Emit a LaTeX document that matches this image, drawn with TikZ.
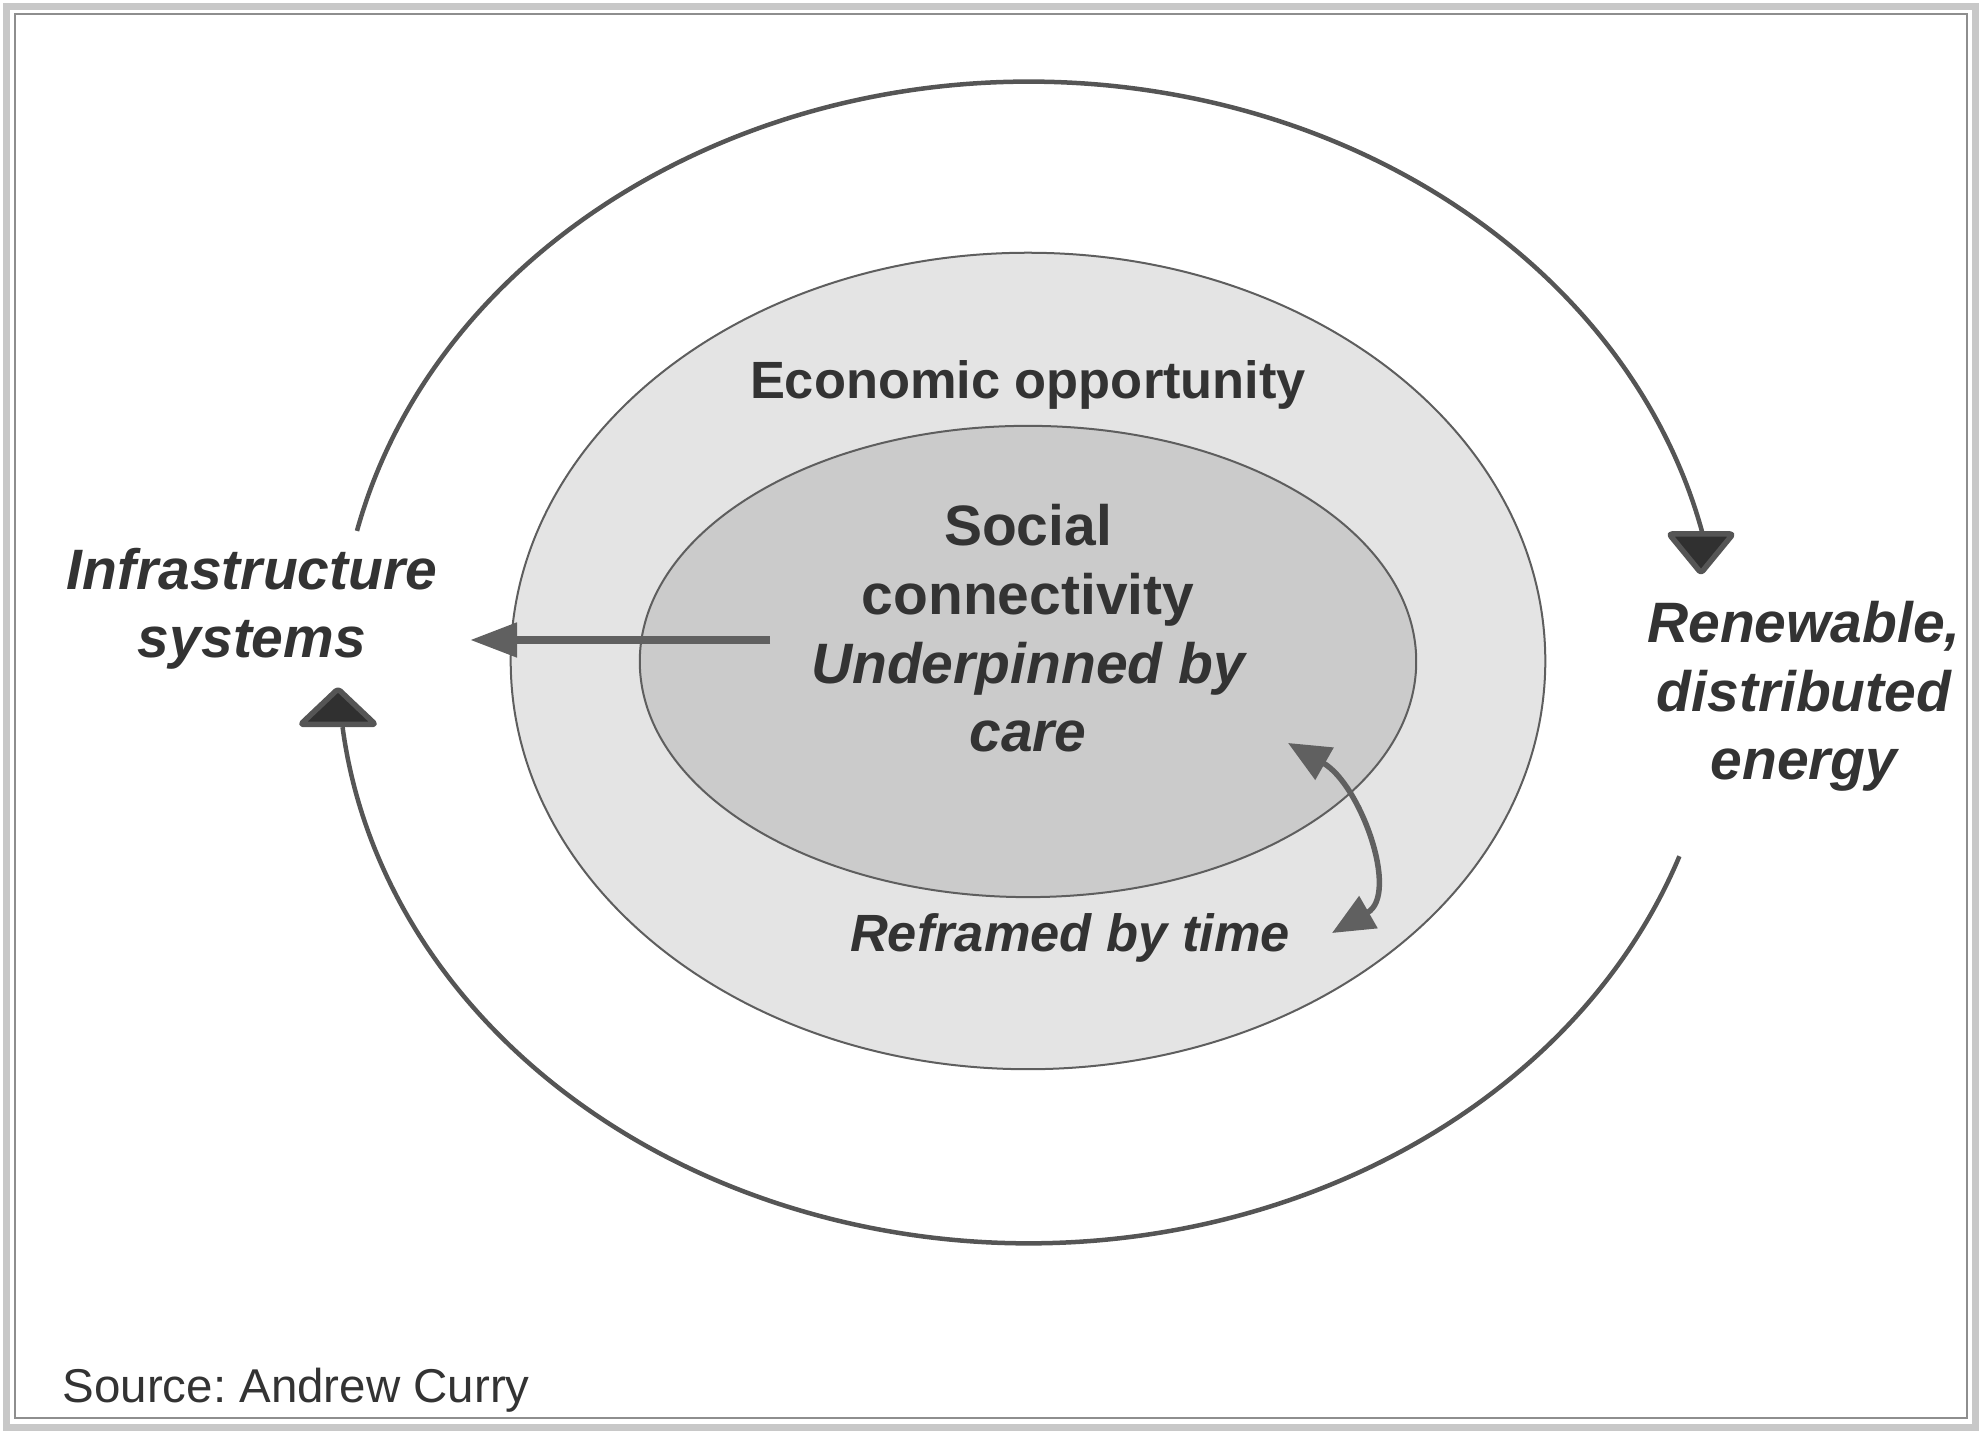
\documentclass[tikz,border=0pt]{standalone}
\usepackage{fontspec}
\setmainfont{Liberation Sans}
\usetikzlibrary{arrows.meta,shapes.geometric}
\definecolor{txt}{HTML}{333333}
\definecolor{ringfill}{HTML}{E4E4E4}
\definecolor{corefill}{HTML}{CBCBCB}
\definecolor{edge}{HTML}{5E5E5E}
\definecolor{cyc}{HTML}{555555}
\definecolor{headfill}{HTML}{303030}
\definecolor{arr}{HTML}{606060}
\definecolor{band}{HTML}{C8C8C8}
\definecolor{frameline}{HTML}{8E8E8E}
\frenchspacing
\tikzset{
  blob/.style={ellipse, draw=edge, line width=0.02cm, inner sep=0pt},
  biglabel/.style={text=txt, align=center, inner sep=0pt,
    font=\fontsize{16.2pt}{19.6pt}\selectfont\bfseries\itshape},
  midlabel/.style={text=txt, inner sep=0pt,
    font=\fontsize{14.9pt}{18pt}\selectfont\bfseries},
  cycline/.style={draw=cyc, line width=0.045cm},
  cychead/.style={fill=headfill, draw=cyc, line width=0.055cm, line join=round, rounded corners=0.03cm},
  flowarrow/.style={draw=arr, line width=0.08cm, -{Triangle[length=0.47cm,width=0.33cm]}},
  twoway/.style={draw=arr, line width=0.055cm, {Triangle[length=0.42cm,width=0.36cm]}-{Triangle[length=0.42cm,width=0.36cm]}}
}
\begin{document}
\begin{tikzpicture}[x=0.01cm,y=0.01cm]
\useasboundingbox (0,0) rectangle (1982,1434);
% frame
\draw[band, line width=0.07cm] (6.5,6.5) rectangle (1975.5,1427.5);
\draw[frameline, line width=0.02cm] (15,16) rectangle (1967,1420);
% ellipses
\node[blob, fill=ringfill, minimum width=10.34cm, minimum height=8.16cm] (ring) at (1028,773) {};
\node[blob, fill=corefill, minimum width=7.76cm, minimum height=4.71cm] (core) at (1028,772.5) {};
% outer cycle arcs
\draw[cycline] ({1029+690*cos(166.9)},{771.5+580.5*sin(166.9)})
  arc[start angle=166.9, end angle=13.0, x radius=6.9cm, y radius=5.805cm];
\draw[cycline] ({1029+690*cos(-19.5)},{771.5+580.5*sin(-19.5)})
  arc[start angle=-19.5, end angle=-173.6, x radius=6.9cm, y radius=5.805cm];
\draw[cychead] (1669,900) -- (1733,900) -- (1701,861) -- cycle;
\draw[cychead] (300.5,709.5) -- (375.5,709.5) -- (338,745) -- cycle;
% labels (base anchor = baseline of last line)
\node[midlabel, anchor=base] (econ) at (1028,1035) {Economic opportunity};
\node[biglabel, anchor=base] (social) at (1028,682) {\upshape Social\\\upshape connectivity\\Underpinned by\\care};
\node[biglabel, anchor=base] (infra) at (252,776) {Infrastructure\\systems};
\node[biglabel, anchor=base] (renew) at (1804,654) {Renewable,\\distributed\\energy};
\node[midlabel, anchor=base, font=\fontsize{14.9pt}{18pt}\selectfont\bfseries\itshape] (reframe) at (1070,482) {Reframed by time};
\node[text=txt, anchor=base west, inner sep=0pt, font=\fontsize{13.5pt}{16pt}\selectfont] (src) at (62,31) {Source: Andrew Curry};
% connectors
\coordinate (socialOut) at (770,794);
\coordinate (infraTip) at (470,794);
\draw[flowarrow] (socialOut) -- (infraTip);
\coordinate (coreEdge) at (1288,691);
\coordinate (ringSide) at (1332,501);
\draw[twoway] (coreEdge) .. controls (1360,650) and (1400,540) .. (ringSide);
\end{tikzpicture}
\end{document}
